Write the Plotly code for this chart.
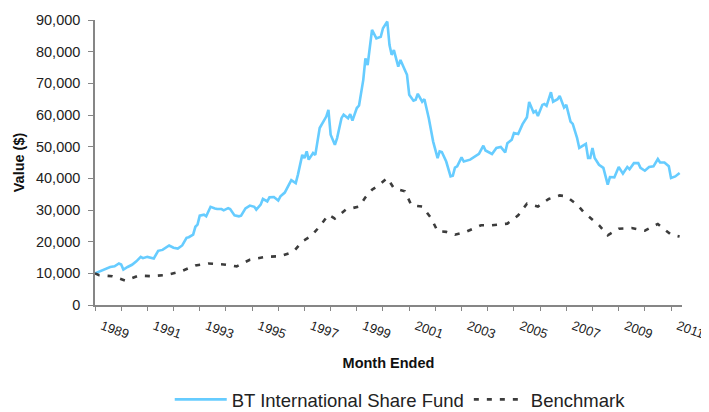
import plotly.graph_objects as go

# Monthly values (month ended, $ value of $10,000 invested)
fund_months = [
    "1989-01", "1989-03", "1989-06", "1989-08", "1989-10", "1989-12", "1990-01", "1990-02",
    "1990-04", "1990-06", "1990-08", "1990-10", "1990-11", "1991-01", "1991-04", "1991-06",
    "1991-08", "1991-11", "1992-01", "1992-03", "1992-05", "1992-07", "1992-08", "1992-10",
    "1992-11", "1992-12", "1993-01", "1993-03", "1993-04", "1993-06", "1993-08", "1993-09",
    "1993-11", "1993-12", "1994-02", "1994-03", "1994-05", "1994-07", "1994-08", "1994-10",
    "1994-12", "1995-02", "1995-03", "1995-05", "1995-06", "1995-08", "1995-09", "1995-11",
    "1996-01", "1996-02", "1996-04", "1996-05", "1996-07", "1996-09", "1996-10", "1996-12",
    "1997-01", "1997-02", "1997-03", "1997-05", "1997-06", "1997-08", "1997-10", "1997-11",
    "1997-12", "1998-01", "1998-03", "1998-04", "1998-06", "1998-07", "1998-09", "1998-10",
    "1998-11", "1999-01", "1999-02", "1999-04", "1999-05", "1999-06", "1999-08", "1999-10",
    "1999-12", "2000-01", "2000-03", "2000-04", "2000-05", "2000-06", "2000-08", "2000-09",
    "2000-11", "2000-12", "2001-01", "2001-03", "2001-04", "2001-05", "2001-07", "2001-08",
    "2001-10", "2001-12", "2002-02", "2002-03", "2002-04", "2002-06", "2002-08", "2002-09",
    "2002-10", "2002-11", "2003-01", "2003-02", "2003-05", "2003-07", "2003-09", "2003-11",
    "2003-12", "2004-03", "2004-05", "2004-07", "2004-09", "2004-10", "2004-12", "2005-01",
    "2005-03", "2005-05", "2005-07", "2005-08", "2005-10", "2005-11", "2005-12", "2006-02",
    "2006-03", "2006-04", "2006-06", "2006-07", "2006-09", "2006-10", "2006-12", "2007-01",
    "2007-03", "2007-04", "2007-06", "2007-07", "2007-09", "2007-10", "2007-11", "2007-12",
    "2008-01", "2008-02", "2008-04", "2008-06", "2008-08", "2008-09", "2008-11", "2009-01",
    "2009-03", "2009-05", "2009-06", "2009-08", "2009-10", "2009-11", "2010-01", "2010-03",
    "2010-05", "2010-07", "2010-08", "2010-10", "2010-12", "2011-01", "2011-03", "2011-05",
]
fund_values = [
    10000, 10500, 11400, 12000, 12200, 13100, 12800, 11200,
    12000, 12700, 13800, 15200, 14800, 15200, 14700, 17100,
    17400, 18800, 18100, 17800, 18800, 21200, 21400, 22200,
    24700, 25400, 28200, 28500, 28000, 31000, 30500, 30300,
    30300, 29900, 30600, 30300, 28300, 28000, 28200, 30500,
    31400, 31000, 30100, 31700, 33500, 32700, 34000, 34100,
    33000, 34300, 35500, 36900, 39400, 38500, 41100, 47400,
    46400, 48500, 45900, 48000, 47400, 55900, 58200, 59500,
    61600, 53800, 50600, 52700, 59000, 60100, 59000, 60300,
    58200, 62200, 63000, 71100, 77900, 75800, 86900, 84200,
    84700, 87400, 89500, 82100, 79000, 80500, 75300, 77400,
    74200, 72700, 66400, 64500, 64800, 66700, 64200, 65000,
    59000, 51600, 46400, 48500, 48300, 45300, 40600, 40800,
    43400, 43800, 46600, 45300, 45900, 46900, 47700, 50300,
    48800, 47700, 49600, 49900, 48200, 51100, 52200, 54300,
    54000, 57100, 59300, 64100, 60800, 61300, 59700, 63200,
    63500, 62900, 67200, 64200, 65000, 66000, 62400, 63200,
    57900, 57200, 52700, 49600, 50600, 50900, 46400, 46400,
    49600, 46400, 44300, 43300, 38000, 40400, 40300, 43600,
    41500, 43600, 42900, 44800, 44800, 43300, 42400, 43600,
    43800, 46100, 45000, 45000, 43800, 40100, 40600, 41700,
]

bench_months = [
    "1989-01", "1989-03", "1989-09", "1990-03", "1990-09", "1991-03", "1991-10", "1992-04",
    "1992-11", "1993-05", "1993-12", "1994-06", "1994-12", "1995-07", "1996-02", "1996-08",
    "1996-12", "1997-04", "1997-08", "1997-12", "1998-03", "1998-08", "1999-02", "1999-05",
    "1999-08", "1999-11", "2000-03", "2000-06", "2000-11", "2001-02", "2001-07", "2001-11",
    "2002-02", "2002-06", "2002-10", "2003-03", "2003-10", "2004-03", "2004-10", "2005-03",
    "2005-07", "2005-12", "2006-05", "2006-10", "2007-01", "2007-06", "2007-09", "2007-12",
    "2008-04", "2008-08", "2009-01", "2009-07", "2010-01", "2010-07", "2011-01", "2011-05",
]
bench_values = [
    10000, 9400, 9100, 7700, 9300, 9100, 9500, 10500,
    12500, 13100, 12800, 12200, 14300, 15200, 15400, 16800,
    20100, 21700, 24800, 28500, 27300, 30100, 31100, 34000,
    36400, 37800, 40100, 36900, 35900, 31500, 31100, 27500,
    23300, 23100, 22200, 23100, 25200, 25200, 25700, 28300,
    32000, 31100, 33500, 34600, 34300, 31700, 29300, 27500,
    25200, 22000, 24100, 24300, 23500, 25600, 22200, 21600,
]

label_years = ["1989", "1991", "1993", "1995", "1997", "1999", "2001", "2003", "2005", "2007", "2009", "2011"]
minor_years = ["1990", "1992", "1994", "1996", "1998", "2000", "2002", "2004", "2006", "2008", "2010"]

FONT = "Liberation Sans, Arial, sans-serif"
AXIS_GREY = "#868686"

fig = go.Figure()
fig.add_trace(go.Scatter(
    x=[m + "-01" for m in fund_months], y=fund_values,
    mode="lines", name="BT International Share Fund",
    line=dict(color="#66CCFF", width=2.6),
))
fig.add_trace(go.Scatter(
    x=[m + "-01" for m in bench_months], y=bench_values,
    mode="lines", name="Benchmark",
    line=dict(color="#3C3C3C", width=2.6, dash="5px,8px"),
))

# the page body adds an 8px offset, so the figure is 8px smaller than the window
fig.update_layout(
    width=701, height=404,
    margin=dict(l=87, r=27.3, t=12, b=106.5),
    paper_bgcolor="white", plot_bgcolor="white",
    font=dict(family=FONT, size=13, color="#222222"),
    showlegend=True,
    legend=dict(
        orientation="h", x=0.52, xanchor="center",
        yref="container", y=0.03, yanchor="middle",
        font=dict(family=FONT, size=18.5, color="#222222"),
        itemwidth=52, bgcolor="rgba(0,0,0,0)",
    ),
    xaxis=dict(
        type="date",
        automargin=False,
        range=["1989-01-01", "2011-06-03"],
        tickmode="array",
        tickvals=[y + "-01-01" for y in label_years],
        ticktext=label_years,
        tickangle=20,
        ticklabelshift=7,
        ticklabelstandoff=3,
        ticks="outside", ticklen=4, tickwidth=1, tickcolor=AXIS_GREY,
        minor=dict(tickmode="array", tickvals=[y + "-01-01" for y in minor_years],
                   ticks="outside", ticklen=4, tickwidth=1, tickcolor=AXIS_GREY, showgrid=False),
        showline=True, linecolor=AXIS_GREY, linewidth=1.5,
        showgrid=False, zeroline=False,
        tickfont=dict(family=FONT, size=13, color="#222222"),
        title=dict(text="Month Ended", font=dict(family=FONT, size=14.5, color="#111111", weight="bold"),
                   standoff=17),
    ),
    yaxis=dict(
        automargin=False,
        range=[0, 90000], tickmode="linear", tick0=0, dtick=10000,
        tickformat=",d",
        ticks="outside", ticklen=5, tickwidth=1, tickcolor=AXIS_GREY,
        showline=True, linecolor=AXIS_GREY, linewidth=1.5,
        showgrid=False, zeroline=False,
        tickfont=dict(family=FONT, size=14.5, color="#222222"),
        ticklabelstandoff=5,
        title=dict(text="Value ($)", font=dict(family=FONT, size=14.5, color="#111111", weight="bold"),
                   standoff=8),
    ),
)

fig.write_html("out.html")
